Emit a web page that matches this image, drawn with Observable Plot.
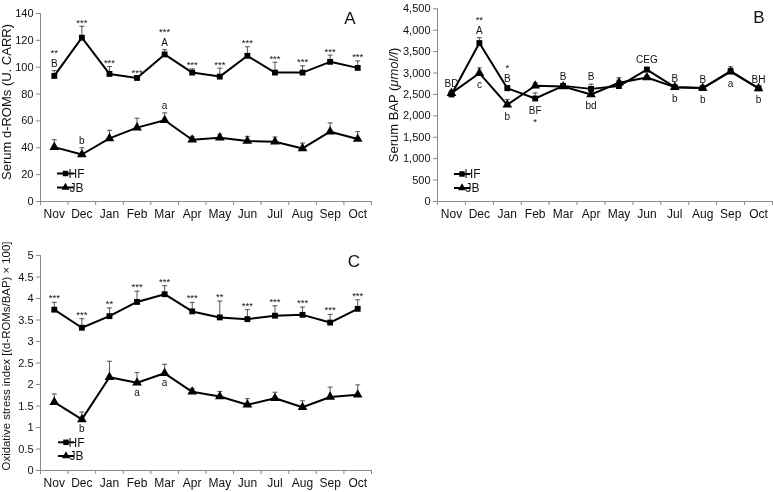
<!DOCTYPE html>
<html><head><meta charset="utf-8">
<script src="https://cdn.jsdelivr.net/npm/d3@7"></script>
<script src="https://cdn.jsdelivr.net/npm/@observablehq/plot@0.6"></script>
<style>
html,body{margin:0;padding:0;background:#fff;}
#root{position:relative;width:773px;height:492px;overflow:hidden;font-family:"Liberation Sans",Arial,sans-serif;}
#root svg{position:absolute;filter:grayscale(1);}
</style></head><body><div id="root"></div>
<script>
const months = ["Nov","Dec","Jan","Feb","Mar","Apr","May","Jun","Jul","Aug","Sep","Oct"];

// Panel A: serum d-ROMs (U. CARR), mean and SE
const dromsHF   = [93.5,122,95,92,109.5,96,93,108.5,96,96,104,99.5];
const dromsHFse = [4,8.5,5.5,1,3.5,2.8,6.3,6.7,7.7,5,5,5.2];
const dromsJB   = [40.5,35,47,55,60.5,46,47.5,45,44.5,39.5,52,46.5];
const dromsJBse = [5.5,5,6,7,5.5,2.5,2.5,3.5,3.5,4,6.5,5.5];
const dromsTicks = [0,20,40,60,80,100,120,140];
const dromsSigHF    = ["**","***","***","***","***","***","***","***","***","***","***","***"];
const dromsLetterHF = ["B","","","","A","","","","","","",""];
const dromsLetterJB = ["","b","","","a","","","","","","",""];

// Panel B: serum BAP (µmol/l)
const bapHF   = [2500,3700,2645,2405,2700,2630,2695,3080,2670,2650,3045,2645];
const bapHFse = [90,125,60,130,45,110,135,55,35,35,100,30];
const bapJB   = [2530,2996,2258,2702,2686,2499,2772,2896,2670,2650,3030,2640];
const bapJBse = [60,125,125,70,40,90,118,45,30,30,60,30];
const bapTicks = [0,500,1000,1500,2000,2500,3000,3500,4000,4500];
const bapAbove    = ["BD","A","B","","B","B","","CEG","B","B","","BH"];
const bapAboveSig = ["","**","*","","","","","","","","",""];
const bapBelow    = ["","c","b","BF","","bd","","","b","b","a","b"];
const bapBelowSig = ["","","","*","","","","","","","",""];

// Panel C: oxidative stress index
const osiHF   = [3.74,3.32,3.59,3.92,4.1,3.7,3.56,3.52,3.6,3.62,3.44,3.76];
const osiHFse = [0.17,0.21,0.19,0.25,0.2,0.21,0.38,0.22,0.23,0.18,0.19,0.21];
const osiJB   = [1.59,1.19,2.17,2.04,2.26,1.83,1.72,1.53,1.68,1.47,1.71,1.76];
const osiJBse = [0.19,0.17,0.37,0.24,0.21,0.08,0.12,0.14,0.14,0.15,0.23,0.23];
const osiTicks = [0,0.5,1,1.5,2,2.5,3,3.5,4,4.5,5];
const osiSigHF    = ["***","***","**","***","***","***","**","***","***","***","***","***"];
const osiLetterJB = ["","b","","a","a","","","","","","",""];

const FONT = '"Liberation Sans", Arial, sans-serif';
const AXIS = "#8a8a8a";
const ERR = "#555";
const LETTER = 10, STAR = 9.5;
const capSymbol = {draw(ctx, size) { const r = Math.sqrt(size / Math.PI); ctx.moveTo(-r, 0); ctx.lineTo(r, 0); }};

function rowsOf(vals, se) {
  return vals.map((v, i) => ({x: i + 0.5, v, top: v + se[i]}));
}
function noteRows(texts, yOf) {
  return texts.map((t, i) => ({x: i + 0.5, y: yOf(i), t})).filter(d => d.t);
}
const onlyWhere = (arr, cond, yes) => arr.map((s, i) => (cond[i] ? yes : !yes) ? s : "");

function makePanel(c) {
  const hfRows = rowsOf(c.hf, c.hfSe), jbRows = rowsOf(c.jb, c.jbSe);
  const noteMarks = c.notes.map(n => Plot.text(n.rows, {
    x: "x", y: "y", text: "t", dy: n.dy, lineAnchor: "bottom", fontSize: n.size, fill: "#111"
  }));
  const svg = Plot.plot({
    width: c.width, height: c.height,
    marginLeft: c.mL, marginRight: c.mR, marginTop: c.mT, marginBottom: c.mB,
    x: {type: "linear", domain: [0, months.length]},
    y: {domain: c.yDomain},
    style: {fontFamily: FONT, fontSize: "12px", color: "#111", background: "transparent", overflow: "visible"},
    marks: [
      Plot.axisY({ticks: c.yTicks, tickSize: 4, tickPadding: 3, tickFormat: c.yFormat, stroke: AXIS, fill: "#111", fontSize: 11, label: null}),
      Plot.axisX({ticks: d3.range(months.length + 1), tickSize: 4, tickFormat: () => "", stroke: AXIS, label: null}),
      Plot.axisX({ticks: months.map((m, i) => i + 0.5), tickSize: 0, tickPadding: 8, tickFormat: d => months[Math.floor(d)], fill: "#111", fontSize: 12, label: null}),
      Plot.ruleX([0], {stroke: AXIS}),
      Plot.ruleY([c.yDomain[0]], {stroke: AXIS}),
      Plot.ruleX(hfRows.concat(jbRows), {x: "x", y1: "v", y2: "top", stroke: ERR, strokeWidth: 1}),
      Plot.dot(hfRows.concat(jbRows), {x: "x", y: "top", symbol: capSymbol, r: 2.5, stroke: ERR, fill: "none", strokeWidth: 1}),
      Plot.line(hfRows, {x: "x", y: "v", stroke: "#000", strokeWidth: 2}),
      Plot.line(jbRows, {x: "x", y: "v", stroke: "#000", strokeWidth: 2}),
      Plot.dot(hfRows, {x: "x", y: "v", symbol: "square", r: 3.3, fill: "#000", stroke: "none"}),
      Plot.dot(jbRows, {x: "x", y: "v", symbol: "triangle", r: 3.6, fill: "#000", stroke: "none"}),
      ...noteMarks
    ]
  });
  svg.style.left = c.left + "px";
  svg.style.top = c.top + "px";
  const g = d3.select(svg).append("g").attr("font-family", FONT).attr("fill", "#111");
  // y-axis title
  const t = g.append("text").attr("text-anchor", "middle")
    .attr("transform", `translate(${c.titleX},${c.titleY}) rotate(-90)`)
    .attr("font-size", c.titleSize);
  c.title.forEach(([s, italic]) => t.append("tspan").attr("font-style", italic ? "italic" : null).text(s));
  // panel letter
  g.append("text").attr("x", c.letterX).attr("y", c.letterY).attr("text-anchor", "middle").attr("dy", "0.36em")
    .attr("font-size", 17).text(c.letter);
  // legend
  [["HF", d3.symbolSquare, 30, c.leg.yHF], ["JB", d3.symbolTriangle, 28, c.leg.yJB]].forEach(([lab, sym, size, y]) => {
    g.append("line").attr("x1", c.leg.x0).attr("x2", c.leg.x1).attr("y1", y).attr("y2", y).attr("stroke", "#000").attr("stroke-width", 2);
    g.append("path").attr("d", d3.symbol(sym, size)()).attr("transform", `translate(${(c.leg.x0 + c.leg.x1) / 2},${y})`).attr("fill", "#000");
    g.append("text").attr("x", c.leg.x1 + 2.5).attr("y", y).attr("dy", "0.36em").attr("font-size", 12).text(lab);
  });
  document.getElementById("root").appendChild(svg);
}

// Panel A
const dromsTop = i => dromsHF[i] + dromsHFse[i];
makePanel({
  left: 0, top: 0, width: 390, height: 225, mL: 40, mR: 19, mT: 13, mB: 24,
  yDomain: [0, 140], yTicks: dromsTicks, yFormat: d => String(d),
  hf: dromsHF, hfSe: dromsHFse, jb: dromsJB, jbSe: dromsJBse,
  notes: [
    {rows: noteRows(onlyWhere(dromsSigHF, dromsLetterHF, false), dromsTop), dy: -0.5, size: STAR},
    {rows: noteRows(onlyWhere(dromsSigHF, dromsLetterHF, true), dromsTop), dy: -14.5, size: STAR},
    {rows: noteRows(dromsLetterHF, dromsTop), dy: -3.5, size: LETTER},
    {rows: noteRows(dromsLetterJB, i => dromsJB[i] + dromsJBse[i]), dy: -3.5, size: LETTER}
  ],
  title: [["Serum d-ROMs (U. CARR)", false]], titleX: 11, titleY: 102, titleSize: 13,
  letter: "A", letterX: 350, letterY: 18,
  leg: {x0: 57, x1: 74, yHF: 173.5, yJB: 187.5}
});

// Panel B
const bapTop = i => Math.max(bapHF[i] + bapHFse[i], bapJB[i] + bapJBse[i]);
const bapLow = i => Math.min(bapHF[i], bapJB[i]);
makePanel({
  left: 390, top: 0, width: 383, height: 225, mL: 47, mR: 1, mT: 8.3, mB: 24,
  yDomain: [0, 4500], yTicks: bapTicks, yFormat: d3.format(","),
  hf: bapHF, hfSe: bapHFse, jb: bapJB, jbSe: bapJBse,
  notes: [
    {rows: noteRows(bapAbove, bapTop), dy: -4, size: LETTER},
    {rows: noteRows(bapAboveSig, bapTop), dy: -15, size: STAR},
    {rows: noteRows(bapBelow, bapLow), dy: 15, size: LETTER},
    {rows: noteRows(bapBelowSig, bapLow), dy: 26, size: STAR}
  ],
  title: [["Serum BAP (", false], ["μmol/l", true], [")", false]], titleX: 8, titleY: 105, titleSize: 13,
  letter: "B", letterX: 369, letterY: 16.5,
  leg: {x0: 64, x1: 80, yHF: 174, yJB: 188}
});

// Panel C
makePanel({
  left: 0, top: 250, width: 390, height: 242, mL: 40, mR: 19, mT: 5, mB: 22,
  yDomain: [0, 5], yTicks: osiTicks, yFormat: d => String(d),
  hf: osiHF, hfSe: osiHFse, jb: osiJB, jbSe: osiJBse,
  notes: [
    {rows: noteRows(osiSigHF, i => osiHF[i] + osiHFse[i]), dy: -1, size: STAR},
    {rows: noteRows(osiLetterJB, i => osiJB[i]), dy: 13, size: LETTER}
  ],
  title: [["Oxidative stress index [(d-ROMs/BAP) × 100]", false]], titleX: 10, titleY: 106, titleSize: 11.4,
  letter: "C", letterX: 354, letterY: 11,
  leg: {x0: 58, x1: 74, yHF: 192.3, yJB: 206}
});
</script>
</body></html>
